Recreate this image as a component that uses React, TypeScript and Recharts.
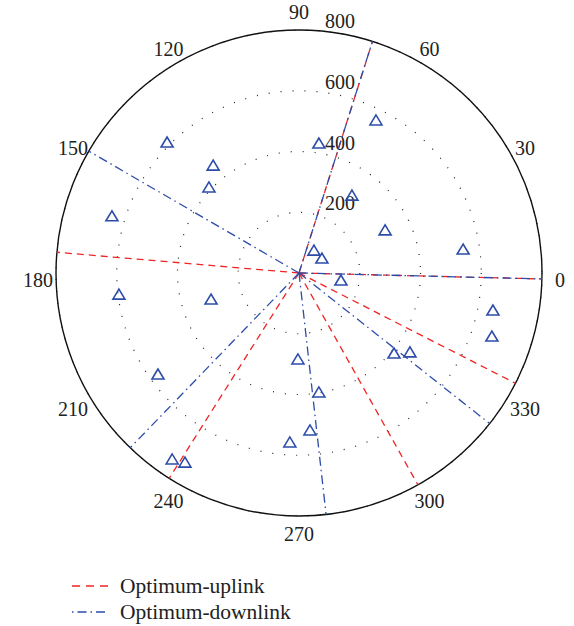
import React from "react";
import {
  RadarChart,
  PolarGrid,
  PolarAngleAxis,
  PolarRadiusAxis,
  Legend,
  ScatterChart,
  Scatter,
  XAxis,
  YAxis,
} from "recharts";

// angle ticks (degrees) and range ticks
const angleTicks = [0, 30, 60, 90, 120, 150, 180, 210, 240, 270, 300, 330];
const rangeTicks = [200, 400, 600, 800];
const maxRange = 800;

// optimum beam directions (degrees)
const uplinkAngles = [72.4, 175.1, 358.6, 237.7, 299.3, 333.0];
const downlinkAngles = [72.4, 149.9, 358.6, 226.0, 276.4, 321.7];

// user positions: angle (deg) and range
const userAngles = [
  63.3, 81.3, 135.2, 128.5, 136.3, 163.0, 55.8, 26.6, 8.3, 56.9, 33.1, 350.5,
  186.7, 196.5, 349.2, 341.9, 319.9, 324.6, 269.3, 215.6, 279.5, 274.0, 266.9,
  235.7, 238.9,
];
const userRanges = [
  564, 433, 612, 454, 410, 644, 310, 317, 546, 90, 90, 140, 597, 302, 650, 668,
  409, 448, 283, 571, 397, 518, 557, 741, 727,
];

const RED = "#f02424";
const BLUE = "#2c4ca8";
const FONT = "Liberation Serif, DejaVu Serif, serif";

const toXY = (angle: number, r: number) => ({
  x: r * Math.cos((angle * Math.PI) / 180),
  y: r * Math.sin((angle * Math.PI) / 180),
});

const polarData = userAngles.map((a, i) => ({ angle: a, range: userRanges[i] }));
const userPoints = userAngles.map((a, i) => toXY(a, userRanges[i]));
const beam = (a: number) => [{ x: 0, y: 0 }, toXY(a, maxRange)];

const textStyle = { fontFamily: FONT, fontSize: 20, fill: "#222" };

const AngleTick = (props: any) => {
  const { x, y, payload } = props;
  const c = Math.cos((payload.value * Math.PI) / 180);
  return (
    <text x={x} y={y + 7 * c * c} textAnchor="middle" dominantBaseline="central" style={textStyle}>
      {payload.value}
    </text>
  );
};

const RangeTick = (props: any) => {
  const { x, y, payload } = props;
  return (
    <text x={x + 41} y={y - 9} textAnchor="middle" dominantBaseline="central" style={textStyle}>
      {payload.value}
    </text>
  );
};

const Triangle = (props: any) => {
  const { cx, cy } = props;
  return (
    <polygon
      points={`${cx},${cy - 5} ${cx - 6},${cy + 5} ${cx + 6},${cy + 5}`}
      fill="none"
      stroke={BLUE}
      strokeWidth={1.6}
    />
  );
};

const NoDot = () => <g />;

const legendText = { fontFamily: FONT, fontSize: 21.5, fill: "#222" };

const renderLegend = () => (
  <svg width={320} height={56}>
    <line x1={12} y1={15} x2={48} y2={15} stroke={RED} strokeWidth={1.3} strokeDasharray="8 6" />
    <text x={60} y={15} dominantBaseline="central" style={legendText}>
      Optimum-uplink
    </text>
    <line x1={12} y1={41} x2={48} y2={41} stroke={BLUE} strokeWidth={1.3} strokeDasharray="1.5 4 9 4" />
    <text x={60} y={41} dominantBaseline="central" style={legendText}>
      Optimum-downlink
    </text>
  </svg>
);

export default function App() {
  return (
    <div style={{ position: "absolute", left: 0, top: 0, width: 574, height: 626, background: "#fff", fontFamily: FONT }}>
      <RadarChart
        width={574}
        height={626}
        data={polarData}
        cx={299}
        cy={273}
        outerRadius={243}
        startAngle={0}
        endAngle={360}
        margin={{ top: 0, right: 0, bottom: 0, left: 0 }}
      >
        <PolarGrid
          gridType="circle"
          radialLines={false}
          stroke="#222"
          strokeWidth={1.2}
          strokeDasharray="1 11"
        />
        <PolarRadiusAxis
          type="number"
          dataKey="range"
          angle={90}
          domain={[0, maxRange]}
          ticks={rangeTicks}
          axisLine={false}
          tickLine={false}
          tick={<RangeTick />}
        />
        <PolarAngleAxis
          type="number"
          dataKey="angle"
          domain={[0, 360]}
          ticks={angleTicks}
          axisLineType="circle"
          axisLine={{ stroke: "#111", strokeWidth: 1.4 }}
          stroke="#111"
          tickLine={false}
          tickSize={18}
          tick={<AngleTick />}
        />
        <Legend
          content={renderLegend}
          wrapperStyle={{ left: 60, top: 571, bottom: "auto", width: 320, height: 56 }}
        />
      </RadarChart>
      <div style={{ position: "absolute", left: 0, top: 0 }}>
        <ScatterChart
          width={574}
          height={540}
          margin={{ top: 30, right: 32, bottom: 24, left: 56 }}
        >
          <XAxis type="number" dataKey="x" domain={[-maxRange, maxRange]} hide allowDataOverflow />
          <YAxis type="number" dataKey="y" domain={[-maxRange, maxRange]} hide allowDataOverflow />
          {uplinkAngles.map((a, i) => (
            <Scatter
              key={"up" + i}
              data={beam(a)}
              fill={RED}
              line={{ stroke: RED, strokeWidth: 1.3, strokeDasharray: "7 5" }}
              lineType="joint"
              shape={<NoDot />}
              isAnimationActive={false}
            />
          ))}
          {downlinkAngles.map((a, i) => (
            <Scatter
              key={"down" + i}
              data={beam(a)}
              fill={BLUE}
              line={{ stroke: BLUE, strokeWidth: 1.3, strokeDasharray: "9 4 1.5 4" }}
              lineType="joint"
              shape={<NoDot />}
              isAnimationActive={false}
            />
          ))}
          <Scatter data={userPoints} fill={BLUE} shape={<Triangle />} isAnimationActive={false} />
        </ScatterChart>
      </div>
    </div>
  );
}
